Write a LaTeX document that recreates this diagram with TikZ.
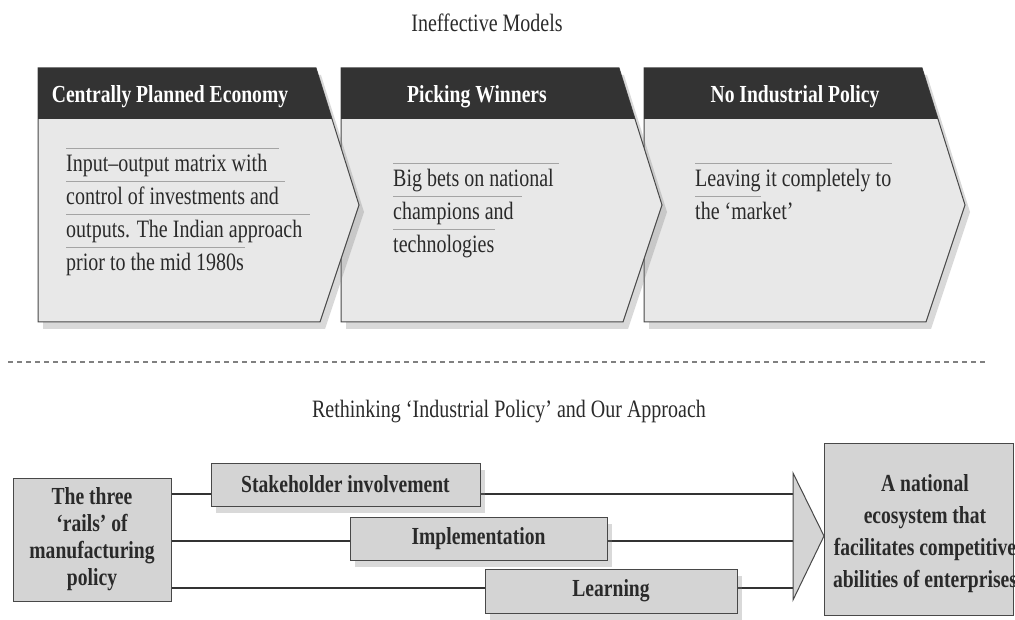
\documentclass[tikz,border=0pt]{standalone}
\usepackage{fontspec}
\setmainfont{Liberation Serif}[FakeStretch=0.8]
\usetikzlibrary{positioning,shadows}

\definecolor{headgray}{HTML}{333333}
\definecolor{bodygray}{HTML}{E8E8E8}
\definecolor{boxgray}{HTML}{D4D4D4}
\definecolor{edgegray}{HTML}{484848}
\definecolor{rulegray}{HTML}{A4A4A4}
\definecolor{inkgray}{HTML}{2A2A2A}

% a thin rule over a line of text, #1 = its length in pt
\newcommand{\ruled}[2]{\makebox[0pt][l]{\textcolor{rulegray}{\rule[22pt]{#1pt}{0.7pt}}}#2}

\begin{document}
\begin{tikzpicture}[x=1pt,y=-1pt,every node/.style={inner sep=0pt},
	chevbody/.style={fill=bodygray,draw=edgegray,line width=1pt,
		drop shadow={shadow xshift=5pt,shadow yshift=-7pt,opacity=0.3}},
	chevhead/.style={fill=headgray},
	headtext/.style={text=white,font=\bfseries\fontsize{24.5}{30}\selectfont},
	bodytext/.style={text=inkgray,align=left,font=\fontsize{25}{33}\selectfont},
	titletext/.style={text=inkgray,font=\fontsize{25}{30}\selectfont},
	railbox/.style={fill=boxgray,draw=edgegray,line width=1pt,text=inkgray,
		font=\bfseries\fontsize{24.5}{27}\selectfont,align=center},
	stepshadow/.style={drop shadow={shadow xshift=5pt,shadow yshift=-7pt,opacity=0.3}},
	rail/.style={draw=headgray,line width=2.2pt},
	dashline/.style={draw=gray,line width=1.8pt,dash pattern=on 5pt off 4pt}]
	\useasboundingbox (0,0) rectangle (1015,620);
	%Notation: {left edge, centre of the heading, heading}
	%NOTE! drawn from right to left so each tip lies on the next box
	\def\chevInfo{{
			{38,170,"Centrally Planned Economy"},
			{341,477,"Picking Winners"},
			{644,795,"No Industrial Policy"},
	}}
	\node[titletext,anchor=base] (topTitle) at (487,32) {Ineffective Models};
	
	% Loop through the three models
	\foreach \i in {2,1,0}{
		\pgfmathsetmacro{\xl}{\chevInfo[\i][0]}% left edge
		\pgfmathsetmacro{\xc}{\chevInfo[\i][1]}% centre of the heading
		\pgfmathsetmacro{\tname}{\chevInfo[\i][2]}% heading
		\filldraw[chevbody] (\xl,68) -- ({\xl+278},68) -- ({\xl+321},205) -- ({\xl+282},322) -- (\xl,322) -- cycle;
		\fill[chevhead] (\xl,68) -- ({\xl+278},68) -- ({\xl+294},119) -- (\xl,119) -- cycle;
		\node[headtext,anchor=base] (head\i) at (\xc,103) {\tname};
	}
	% Text of each model
	\node[bodytext,anchor=north west] (body0) at (66,148.3) {\ruled{213}{Input--output matrix with}\\
		\ruled{219}{control of investments and}\\
		\ruled{244}{outputs. The Indian approach}\\
		\ruled{179}{prior to the mid 1980s}};
	\node[bodytext,anchor=north west] (body1) at (393,163.3) {\ruled{166}{Big bets on national}\\
		\ruled{129}{champions and}\\
		\ruled{102}{technologies}};
	\node[bodytext,anchor=north west] (body2) at (695,163.3) {\ruled{197}{Leaving it completely to}\\
		\ruled{66}{the ‘market’}};
	
	\draw[dashline] (8,362) -- (985,362);
	\node[titletext,anchor=base] (lowTitle) at (509,417) {Rethinking ‘Industrial Policy’ and Our Approach};
	
	% The rails and where they lead
	\node[railbox,minimum width=158pt,minimum height=123pt] (rails) at (92,539.5) {The three\\‘rails’ of\\manufacturing\\policy};
	\coordinate (r1) at (793,494);
	\coordinate (r2) at (793,541);
	\coordinate (r3) at (793,588);
	\draw[rail] (rails.east |- r1) -- (r1);
	\draw[rail,line width=1.5pt] (rails.east |- r2) -- (r2);
	\draw[rail] (rails.east |- r3) -- (r3);
	\filldraw[fill=boxgray,draw=edgegray,line width=1pt] (793,473) -- (824,536) -- (793,600) -- cycle;
	\node[railbox,stepshadow,minimum width=269pt,minimum height=43pt] (stake) at (345.5,484.5) {Stakeholder involvement};
	\node[railbox,stepshadow,minimum width=257pt,minimum height=43pt] (impl) at (478.5,538.5) {Implementation};
	\node[railbox,stepshadow,minimum width=252pt,minimum height=44pt] (learn) at (611,591) {Learning};
	\node[railbox,minimum width=189pt,minimum height=172pt] (goal) at (918.5,529) {};
	\node[railbox,draw=none,fill=none,font=\bfseries\fontsize{24.5}{32}\selectfont] (goalText) at (925,534) {A national\\ecosystem that\\facilitates competitive\\abilities of enterprises};
\end{tikzpicture}
\end{document}
